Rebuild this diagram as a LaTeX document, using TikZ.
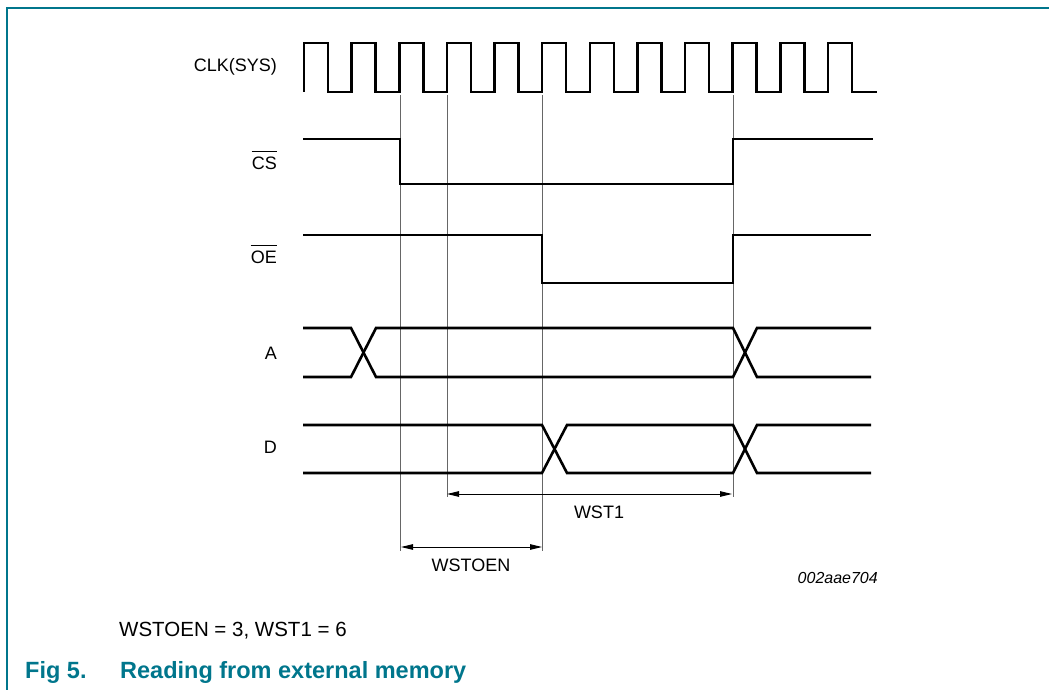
\documentclass[tikz,border=0pt]{standalone}
\usepackage{fontspec}
\setmainfont{Liberation Sans}
\usetikzlibrary{arrows.meta}
\definecolor{nxpteal}{RGB}{0,118,140}
\begin{document}
\begin{tikzpicture}[x=1pt,y=-1pt,
  sig/.style={line width=2.6pt,line join=miter,black},
  guide/.style={line width=0.9pt,black!60},
  dim/.style={line width=0.9pt,black,{Triangle[length=12pt,width=5.5pt]}-{Triangle[length=12pt,width=5.5pt]}},
  lbl/.style={inner sep=0pt,font=\fontsize{18}{20}\selectfont},
  bar/.style={line width=0.9pt,black},
  frame/.style={line width=1.4pt,nxpteal}]
\useasboundingbox (0,0) rectangle (1049,690);
% frame
\draw[frame] (7,690) -- (7,8) -- (1049,8);
% guide lines
\draw[guide] (400,95) -- (400,551);
\draw[guide] (447,95) -- (447,497);
\draw[guide] (542,95) -- (542,551);
\draw[guide] (733,95) -- (733,497);
% clock
\draw[sig] (304,92) foreach \k in {0,...,11} {
  -- ({304+\k*47.636},92) -- ({304+\k*47.636},43) -- ({328+\k*47.636},43) -- ({328+\k*47.636},92)} -- (877,92);
% CS
\draw[sig] (303,139) -- (400,139) -- (400,184) -- (733,184) -- (733,139) -- (873,139);
% OE
\draw[sig] (303,235) -- (542,235) -- (542,283) -- (733,283) -- (733,235) -- (871,235);
% A
\draw[sig] (303,328) -- (351,328) -- (376,377) -- (733,377) -- (757,328) -- (871,328);
\draw[sig] (303,377) -- (351,377) -- (376,328) -- (733,328) -- (757,377) -- (871,377);
% D
\draw[sig] (303,425) -- (542,425) -- (567,473) -- (733,473) -- (757,425) -- (871,425);
\draw[sig] (303,473) -- (542,473) -- (567,425) -- (733,425) -- (757,473) -- (871,473);
% labels
\node[lbl,anchor=base east] (clk) at (277,72) {CLK(SYS)};
\node[lbl,anchor=base east] (cs) at (277,169) {CS};
\node[lbl,anchor=base east] (oe) at (277,263) {OE};
\draw[bar] ([yshift=5pt]cs.north west) -- ([yshift=5pt]cs.north east);
\draw[bar] ([yshift=5pt]oe.north west) -- ([yshift=5pt]oe.north east);
\node[lbl,anchor=base east] (a) at (277,359) {A};
\node[lbl,anchor=base east] (d) at (277,453) {D};
% dimensions
\coordinate (w1a) at (447,494);
\coordinate (w1b) at (732,494);
\coordinate (w0a) at (401,547);
\coordinate (w0b) at (542,547);
\draw[dim] (w1a) -- (w1b);
\draw[dim] (w0a) -- (w0b);
\node[lbl,anchor=base] (wst1) at (599,518) {WST1};
\node[lbl,anchor=base] (wstoen) at (471,571) {WSTOEN};
\node[inner sep=0pt,anchor=base east,font=\fontsize{16}{18}\selectfont\itshape] (id) at (878,583) {002aae704};
\node[inner sep=0pt,anchor=base west,font=\fontsize{20.5}{22}\selectfont] (note) at (119,636) {WSTOEN = 3, WST1 = 6};
\node[inner sep=0pt,anchor=base west,font=\fontsize{23.5}{26}\selectfont\bfseries,text=nxpteal] (fig) at (25,678) {Fig 5.};
\node[inner sep=0pt,anchor=base west,font=\fontsize{23.5}{26}\selectfont\bfseries,text=nxpteal] (cap) at (120,678) {Reading from external memory};
\end{tikzpicture}
\end{document}
